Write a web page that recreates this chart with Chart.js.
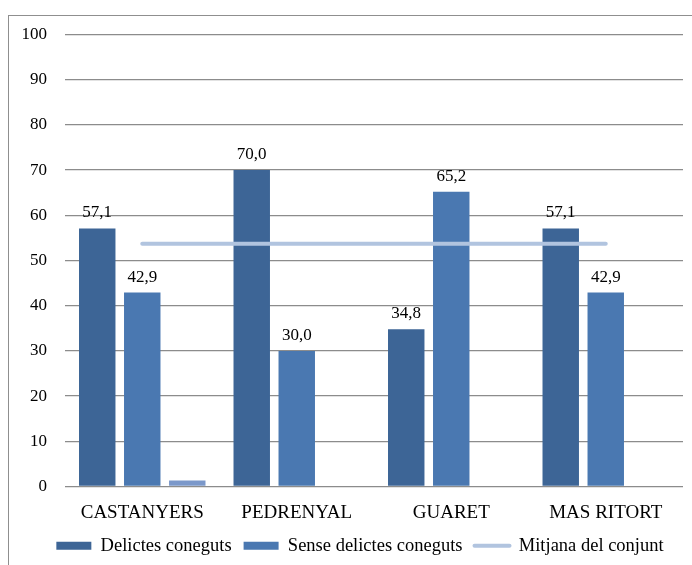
<!DOCTYPE html>
<html>
<head>
<meta charset="utf-8">
<script src="https://cdn.jsdelivr.net/npm/chart.js@4.4.1/dist/chart.umd.min.js"></script>
<style>
  html, body { margin: 0; padding: 0; background: #fff; }
  body { width: 692px; height: 565px; overflow: hidden; position: relative; }
  #frame { position: absolute; left: 8px; top: 15px; width: 702px; height: 560px; border: 1px solid #8f8f8f; }
  #frame canvas { display: block; }
</style>
</head>
<body>
<div id="frame"><canvas id="c" width="702" height="560"></canvas></div>
<script>
// Categories and series (percentages)
const categories = ['CASTANYERS', 'PEDRENYAL', 'GUARET', 'MAS RITORT'];
const delictesConeguts = [57.1, 70.0, 34.8, 57.1];
const senseDelictes = [42.9, 30.0, 65.2, 42.9];
const tercerSerie = [1.3, null, null, null];
const mitjanaConjunt = [53.7, 53.7, 53.7, 53.7];
const yTicks = [0, 10, 20, 30, 40, 50, 60, 70, 80, 90, 100];

const COL_DARK = '#3d6596';
const COL_MID = '#4a78b1';
const COL_LIGHT = '#7b98ca';
const COL_LINE = '#b1c4df';
const SERIF = "'Liberation Serif', 'Times New Roman', serif";

const fmt = v => v.toFixed(1).replace('.', ',');

// Value labels above the two main bar series
const valueLabels = {
  id: 'valueLabels',
  afterDatasetsDraw(chart) {
    const ctx = chart.ctx;
    ctx.save();
    ctx.font = '17px ' + SERIF;
    ctx.fillStyle = '#000';
    ctx.textAlign = 'center';
    ctx.textBaseline = 'alphabetic';
    [0, 1].forEach(di => {
      const meta = chart.getDatasetMeta(di);
      const data = chart.data.datasets[di].data;
      meta.data.forEach((el, i) => {
        if (data[i] == null) return;
        ctx.fillText(fmt(data[i]), el.x, el.y - 11);
      });
    });
    ctx.restore();
  }
};

new Chart(document.getElementById('c'), {
  data: {
    labels: categories,
    datasets: [
      { type: 'bar', label: 'Delictes coneguts', data: delictesConeguts, backgroundColor: COL_DARK, order: 1 },
      { type: 'bar', label: 'Sense delictes coneguts', data: senseDelictes, backgroundColor: COL_MID, order: 1 },
      { type: 'bar', label: '', data: tercerSerie, backgroundColor: COL_LIGHT, order: 1 },
      { type: 'line', label: 'Mitjana del conjunt', data: mitjanaConjunt, borderColor: COL_LINE,
        borderWidth: 4, pointRadius: 0, borderCapStyle: 'round', fill: false, order: 0 }
    ]
  },
  options: {
    responsive: false,
    animation: false,
    devicePixelRatio: 1,
    datasets: { bar: { categoryPercentage: 0.874, barPercentage: 0.81 } },
    layout: { padding: { top: 18.5, right: 0, bottom: 11, left: 0 } },
    plugins: {
      tooltip: { enabled: false },
      legend: {
        position: 'bottom',
        labels: {
          font: { family: SERIF, size: 18.5 },
          color: '#000',
          usePointStyle: true,
          pointStyleWidth: 35,
          boxHeight: 8,
          padding: 12,
          generateLabels(chart) {
            return chart.data.datasets.map((ds, i) => ({ ds, i }))
              .filter(o => o.ds.label)
              .map(o => ({
                text: o.ds.label,
                datasetIndex: o.i,
                fillStyle: o.ds.type === 'line' ? COL_LINE : o.ds.backgroundColor,
                strokeStyle: o.ds.type === 'line' ? COL_LINE : o.ds.backgroundColor,
                lineWidth: o.ds.type === 'line' ? 4 : 0,
                lineCap: 'round',
                pointStyle: o.ds.type === 'line' ? 'line' : 'rect',
                fontColor: '#000',
                hidden: false
              }));
          }
        }
      }
    },
    scales: {
      x: {
        grid: { display: false },
        border: { display: false },
        ticks: { font: { family: SERIF, size: 19 }, color: '#000', padding: 7, maxRotation: 0 },
        afterFit(s) { s.height = 38; }
      },
      y: {
        min: 0,
        max: 100,
        afterBuildTicks(s) { s.ticks = yTicks.map(v => ({ value: v })); },
        grid: { color: '#8c8c8c', lineWidth: 1.3, drawTicks: false },
        border: { display: false },
        ticks: { font: { family: SERIF, size: 17 }, color: '#000', padding: 18 },
        afterFit(s) { s.width = 56; s.paddingTop = 0; s.paddingBottom = 0; }
      },
      // empty margin on the right of the plot
      yRight: {
        position: 'right',
        display: true,
        grid: { display: false },
        border: { display: false },
        ticks: { display: false },
        afterFit(s) { s.width = 28; s.paddingTop = 0; s.paddingBottom = 0; }
      }
    }
  },
  plugins: [valueLabels]
});
</script>
</body>
</html>
